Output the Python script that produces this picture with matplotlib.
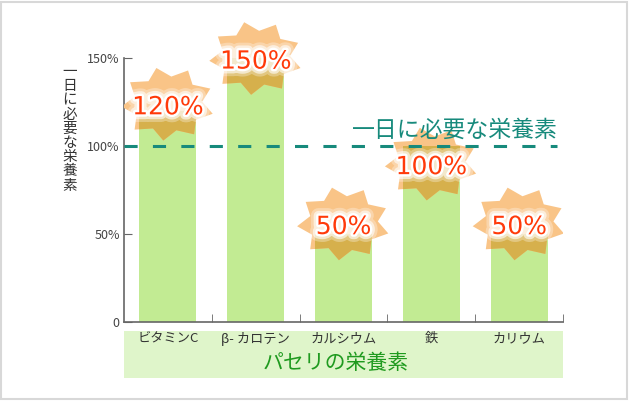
import numpy as np
import matplotlib.pyplot as plt
from matplotlib.patches import Polygon, Rectangle
import matplotlib.patheffects as pe

plt.rcParams['font.family'] = ['Noto Sans CJK JP', 'DejaVu Sans']

# data
categories = ['ビタミンC', 'β- カロテン', 'カルシウム', '鉄', 'カリウム']
values = [120, 150, 50, 100, 50]
labels = ['120%', '150%', '50%', '100%', '50%']
yticks = [0, 50, 100, 150]
yticklabels = ['0', '50%', '100%', '150%']
label_shift = [2, -2, 4, -12, 4]  # nudge so the stars clear the dashed line

fig = plt.figure(figsize=(6.3, 4.01), dpi=100)
ax = fig.add_axes([124/630, 79/401, 439/630, 312/401])
ax.set_xlim(-0.5, 4.5)
ax.set_ylim(0, 177.3)

x = np.arange(len(categories))
bars = ax.bar(x, values, width=0.65, color='#c2eb93', zorder=2)


def star(cx, cy, rx=0.53, ry=21, n=9, rot=0.25):
    ang = np.linspace(0, 2*np.pi, 2*n, endpoint=False) + np.pi/2 + rot
    r = np.where(np.arange(2*n) % 2 == 0, 1.0, 0.74)
    return np.column_stack([cx + rx*r*np.cos(ang), cy + ry*r*np.sin(ang)])


glow = [pe.Stroke(linewidth=11, foreground='white', alpha=0.3),
        pe.Stroke(linewidth=7, foreground='white', alpha=0.6),
        pe.Stroke(linewidth=3.5, foreground='white'),
        pe.Normal()]

for i, b in enumerate(bars):
    ly = values[i] + label_shift[i]
    pts = star(x[i], ly + 2)
    ax.add_patch(Polygon(pts, closed=True, facecolor='#f9c487', edgecolor='none', zorder=3))
    inner = Polygon(pts, closed=True, facecolor='#d6b04c', edgecolor='none', zorder=3.1)
    ax.add_patch(inner)
    inner.set_clip_path(b)
    ax.text(x[i], ly, labels[i], ha='center', va='center', fontsize=18,
            color='#ff3a0a', family='DejaVu Sans', zorder=6, path_effects=glow)

# daily requirement line
ax.axhline(100, xmin=0, xmax=(557-124)/439, color='#178a7c', lw=2.2,
           ls=(0, (4.3, 5)), zorder=4)
ax.text(3.27, 109, '一日に必要な栄養素', ha='center', va='center',
        fontsize=16.5, color='#178a7c', zorder=6)

for s in ['top', 'right']:
    ax.spines[s].set_visible(False)
ax.spines['left'].set_bounds(0, 150)
ax.spines['left'].set_color('#666666')
ax.spines['bottom'].set_color('#666666')
ax.spines['left'].set_linewidth(1.2)
ax.spines['bottom'].set_linewidth(1.2)

ax.set_yticks(yticks)
ax.set_yticklabels(yticklabels)
ax.tick_params(axis='y', direction='in', length=6, color='#666666',
               labelsize=9, labelcolor='#444444', pad=3)
ax.set_xticks(x)
ax.set_xticklabels(categories)
ax.tick_params(axis='x', length=0, labelsize=9.5, labelcolor='#333333', pad=7)
ax.set_xticks(list(x + 0.5), minor=True)
ax.tick_params(axis='x', which='minor', direction='in', length=6, color='#666666')

# bottom band
fig.add_artist(Rectangle((124/630, 23/401), 439/630, 47/401, transform=fig.transFigure,
                         facecolor='#dff5ca', edgecolor='none', zorder=-1))
fig.text(336/630, 38/401, 'パセリの栄養素', ha='center', va='center',
         fontsize=15, color='#1f9a1f')

fig.text(70/630, 1 - 129/401, '\n'.join('一日に必要な栄養素'), ha='center', va='center',
         fontsize=10.5, linespacing=1.02, color='#333333')

fig.add_artist(Rectangle((0.002, 0.004), 0.994, 0.992, transform=fig.transFigure,
                         fill=False, edgecolor='#d8d8d8', lw=1.5))

fig.savefig('out.png', dpi=100)
